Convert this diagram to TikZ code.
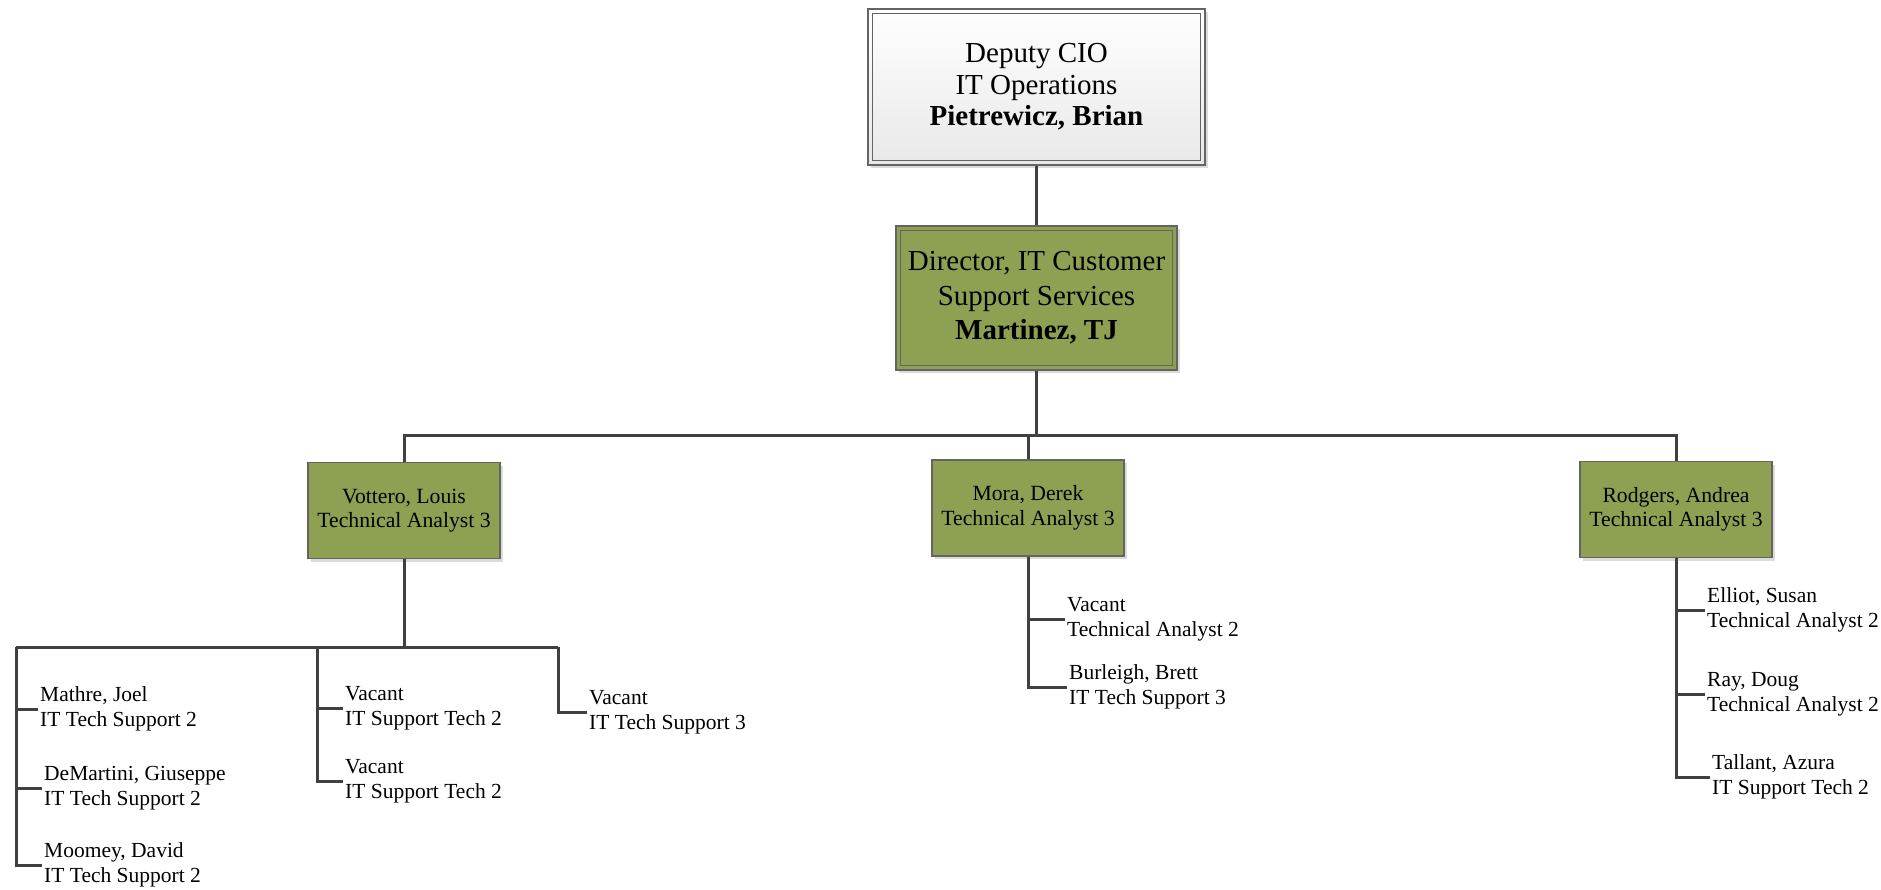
\documentclass[tikz,border=0pt]{standalone}
\usepackage{fontspec}
\setmainfont{Liberation Serif}
\usetikzlibrary{shadows}
\definecolor{boxgreen}{RGB}{142,161,82}
\definecolor{linegray}{RGB}{64,64,64}
\definecolor{bordergray}{RGB}{100,100,100}
\tikzset{
  conn/.style={draw=linegray, line width=3pt},
  shadowed/.style={drop shadow={shadow xshift=3pt, shadow yshift=-3pt, fill=black, opacity=0.14}},
  topbox/.style={draw=bordergray, line width=1.3pt, top color=white, bottom color=black!9,
    minimum width=337pt, minimum height=156pt, align=center, inner sep=0pt, shadowed,
    font=\fontsize{29}{31.5}\selectfont},
  dirbox/.style={draw=bordergray, line width=1.3pt, fill=boxgreen,
    minimum width=281pt, minimum height=144pt, align=center, inner sep=0pt, shadowed,
    font=\fontsize{29}{34.5}\selectfont},
  tabox/.style={draw=bordergray, line width=1.1pt, fill=boxgreen,
    minimum width=192pt, minimum height=96pt, align=center, inner sep=0pt, shadowed,
    font=\fontsize{21.7}{24.5}\selectfont},
  leaf/.style={anchor=west, align=left, inner sep=2pt, font=\fontsize{21.5}{25}\selectfont},
  innerline/.style={draw=bordergray, line width=1.1pt}
}
\begin{document}
\begin{tikzpicture}[x=1pt,y=-1pt]
\useasboundingbox (0,0) rectangle (1881,890);

% top levels
\node[topbox] (top) at (1036.5,87) {Deputy CIO\\IT Operations\\\textbf{Pietrewicz, Brian}};
\draw[innerline] ([shift={(5,5)}]top.north west) rectangle ([shift={(-5,-5)}]top.south east);

\node[dirbox] (dir) at (1036.5,298) {Director, IT Customer\\Support Services\\\textbf{Martinez, TJ}};
\draw[innerline] ([shift={(5,5)}]dir.north west) rectangle ([shift={(-5,-5)}]dir.south east);

\node[tabox] (vot) at (404,510.5) {Vottero, Louis\\Technical Analyst 3};
\node[tabox] (mor) at (1028,508) {Mora, Derek\\Technical Analyst 3};
\node[tabox] (rod) at (1676,509.5) {Rodgers, Andrea\\Technical Analyst 3};

\draw[conn] (top.south) -- (dir.north);
\coordinate (bus) at (1036.5,435);
\draw[conn] (dir.south) -- (bus);
\draw[conn] (vot.north) |- (bus);
\draw[conn] (rod.north) |- (bus);
\draw[conn] (mor.north) |- (bus);

% Vottero subtree
\coordinate (vbus) at (404,647);
\coordinate (b1) at (16,647);
\coordinate (b2) at (317,647);
\coordinate (b3) at (558,647);
\draw[conn] (vot.south) -- (vbus);
\draw[conn] (b1) -- (b3);

\node[leaf] (l1) at (38,709) {Mathre, Joel\\IT Tech Support 2};
\node[leaf] (l2) at (42,788) {DeMartini, Giuseppe\\IT Tech Support 2};
\node[leaf] (l3) at (42,865) {Moomey, David\\IT Tech Support 2};
\node[leaf] (l4) at (343,708) {Vacant\\IT Support Tech 2};
\node[leaf] (l5) at (343,781) {Vacant\\IT Support Tech 2};
\node[leaf] (l6) at (587,712) {Vacant\\IT Tech Support 3};

\draw[conn] (b1) |- (l1.west);
\draw[conn] (b1) |- (l2.west);
\draw[conn] (b1) |- (l3.west);
\draw[conn] (b2) |- (l4.west);
\draw[conn] (b2) |- (l5.west);
\draw[conn] (b3) |- (l6.west);

% Mora subtree
\node[leaf] (m1) at (1065,619) {Vacant\\Technical Analyst 2};
\node[leaf] (m2) at (1067,687) {Burleigh, Brett\\IT Tech Support 3};
\draw[conn] (mor.south) |- (m1.west);
\draw[conn] (mor.south) |- (m2.west);

% Rodgers subtree
\node[leaf] (r1) at (1705,610) {Elliot, Susan\\Technical Analyst 2};
\node[leaf] (r2) at (1705,694) {Ray, Doug\\Technical Analyst 2};
\node[leaf] (r3) at (1710,777) {Tallant, Azura\\IT Support Tech 2};
\draw[conn] (rod.south) |- (r1.west);
\draw[conn] (rod.south) |- (r2.west);
\draw[conn] (rod.south) |- (r3.west);
\end{tikzpicture}
\end{document}
